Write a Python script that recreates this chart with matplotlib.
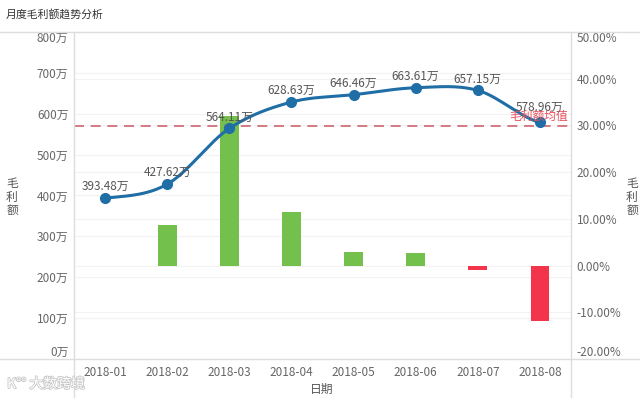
import numpy as np
import matplotlib
matplotlib.use("Agg")
import matplotlib.pyplot as plt
from matplotlib.lines import Line2D
import matplotlib.patheffects as pe
import matplotlib.transforms as mtransforms

plt.rcParams['font.family'] = ['Noto Sans CJK SC', 'DejaVu Sans']

# ---- data ----
months = ['2018-01', '2018-02', '2018-03', '2018-04', '2018-05', '2018-06', '2018-07', '2018-08']
gross_profit = [393.48, 427.62, 564.11, 628.63, 646.46, 663.61, 657.15, 578.96]   # 万
growth_pct = [np.nan, 8.68, 31.92, 11.44, 2.84, 2.65, -0.97, -11.90]               # %
avg_profit = 570.0
left_ticks = [0, 100, 200, 300, 400, 500, 600, 700, 800]
right_ticks = [-20, -10, 0, 10, 20, 30, 40, 50]

W, H = 640, 398
fig = plt.figure(figsize=(6.4, 3.98), dpi=100)
L, R, T, B = 74, 571, 32, 359
ax = fig.add_axes([L / W, 1 - B / H, (R - L) / W, (B - T) / H])
ax2 = ax.twinx()

x = np.arange(len(months))

# bars on the right axis
bar_colors = ['#74c04c' if (not np.isnan(v) and v >= 0) else '#f4344a' for v in growth_pct]
ax2.bar(x, np.nan_to_num(growth_pct), width=0.3, color=bar_colors, zorder=2)
ax2.set_ylim(-20, 50)
ax2.set_yticks(right_ticks)
ax2.set_yticklabels([f'{t:.2f}%' for t in right_ticks])

# line on left axis, drawn above bars
ax.set_zorder(ax2.get_zorder() + 1)
ax.patch.set_visible(False)
ax.set_ylim(0, 800)
ax.set_xlim(-0.5, len(months) - 0.5)
ax.set_yticks(left_ticks)
ax.set_yticklabels([f'{t}万' for t in left_ticks])

# grid lines (very faint), all placed beneath the bars
left_grid_tr = mtransforms.blended_transform_factory(ax.transAxes, ax.transData)
for t in left_ticks[1:-1]:
    ax2.add_line(Line2D([0, 1], [t, t], transform=left_grid_tr, color='#f2f2f2', lw=0.8, zorder=0))
for t in right_ticks[1:-1]:
    ax2.axhline(t, color='#f2f2f2', lw=0.8, zorder=0)

# smooth curve (Catmull-Rom) through the data points
yv = np.array(gross_profit)
xs_all, ys_all = [], []
n = len(yv)
for i in range(n - 1):
    p0 = yv[max(i - 1, 0)]
    p1 = yv[i]
    p2 = yv[i + 1]
    p3 = yv[min(i + 2, n - 1)]
    t = np.linspace(0, 1, 30)
    yy = 0.5 * ((2 * p1) + (-p0 + p2) * t + (2 * p0 - 5 * p1 + 4 * p2 - p3) * t ** 2
                + (-p0 + 3 * p1 - 3 * p2 + p3) * t ** 3)
    xs_all.append(i + t)
    ys_all.append(yy)
line_color = '#1f6ea6'
ax.plot(np.concatenate(xs_all), np.concatenate(ys_all), color=line_color, lw=2.2, zorder=3,
        solid_capstyle='round')
ax.plot(x, gross_profit, 'o', color=line_color, ms=7, zorder=4)

for i, (xi, v) in enumerate(zip(x, gross_profit)):
    off = 6 if i == len(gross_profit) - 1 else 3.5
    ax.annotate(f'{v:.2f}万', (xi, v), xytext=(0, off), textcoords='offset points',
                ha='center', va='bottom', fontsize=8.5, color='#555555', zorder=5)

# average line
ax.axhline(avg_profit, color='#cc6670', lw=1.2, ls=(0, (6, 4)), zorder=2.5)
ax.text(len(months) - 0.5 - 0.05, avg_profit + 8, '毛利额均值', ha='right', va='bottom',
        fontsize=8.5, color='#e8505b', zorder=5)

# ticks styling
for a in (ax, ax2):
    a.tick_params(length=0, labelsize=8.5, labelcolor='#666666')
    for s in a.spines.values():
        s.set_visible(False)
ax.tick_params(axis='y', pad=4)
ax2.tick_params(axis='y', pad=4)
ax.set_xticks(x)
ax.set_xticklabels(months)
ax.tick_params(axis='x', pad=5)

# clamp edge tick labels inward
ylabels = ax.get_yticklabels()
ylabels[0].set_va('bottom')
ylabels[-1].set_va('top')
rlabels = ax2.get_yticklabels()
rlabels[0].set_va('bottom')
rlabels[-1].set_va('top')

# frame lines
fig.add_artist(Line2D([0, 1], [1 - T / H, 1 - T / H], color='#dddddd', lw=1))
fig.add_artist(Line2D([0, 1], [1 - B / H, 1 - B / H], color='#dddddd', lw=1))
fig.add_artist(Line2D([L / W, L / W], [0, 1 - T / H], color='#dddddd', lw=1))
fig.add_artist(Line2D([R / W, R / W], [0, 1 - T / H], color='#dddddd', lw=1))

# titles
fig.text(6 / W, 1 - 14 / H, '月度毛利额趋势分析', ha='left', va='center', fontsize=7.8, color='#333333')
fig.text(12 / W, 1 - 197 / H, '毛\n利\n额', ha='center', va='center', fontsize=8.5,
         color='#555555', linespacing=1.05)
fig.text(632 / W, 1 - 197 / H, '毛\n利\n额', ha='center', va='center', fontsize=8.5,
         color='#555555', linespacing=1.05)
fig.text(322 / W, 1 - 389 / H, '日期', ha='center', va='center', fontsize=8.5, color='#555555')

# watermark
fig.text(7 / W, 1 - 384 / H, 'K°° 大数跨境', ha='left', va='center', fontsize=10, color='white',
         path_effects=[pe.withStroke(linewidth=1.2, foreground='#c8c8c8')])

fig.savefig('out.png', dpi=100)
